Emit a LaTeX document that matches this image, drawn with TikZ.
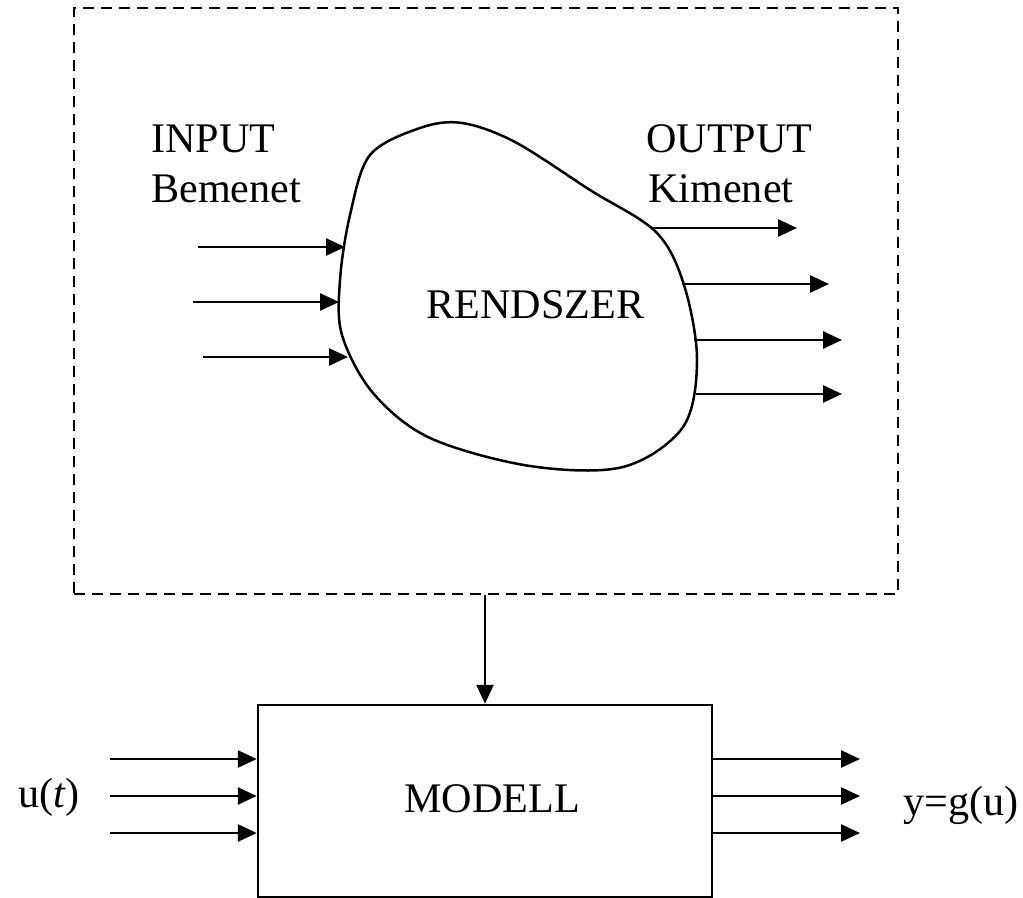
\documentclass[tikz,border=0pt]{standalone}
\usepackage{fontspec}
\setmainfont{Liberation Serif}
\usetikzlibrary{arrows.meta}
\begin{document}
\begin{tikzpicture}[x=0.02cm, y=-0.02cm,
  line width=0.05cm,
  arr/.style={-{Triangle[length=0.38cm,width=0.34cm]}},
  lbl/.style={anchor=base west, inner sep=0pt, font=\fontsize{24}{28}\selectfont},
  sysbox/.style={draw, dash pattern=on 0.22cm off 0.14cm, inner sep=0pt},
  modelbox/.style={draw, inner sep=0pt}]
\useasboundingbox (0,0) rectangle (1023,898);

% dashed system frame
\node[sysbox, minimum width=16.48cm, minimum height=11.72cm] (sys) at (486,301) {};

% the system blob
\draw plot[smooth cycle, tension=0.55] coordinates {
  (462,123) (515,142) (590,190) (656,232)
  (684,285) (697,360) (683,427) (623,467)
  (530,466) (430,438) (373,393) (342,335)
  (340,280) (350,215) (370,155) (420,128)};
\node[lbl] (rendszer) at (425,318) {RENDSZER};

\node[lbl] (input) at (150,153) {INPUT};
\node[lbl] (bemenet) at (150,203) {Bemenet};
\node[lbl] (output) at (645,153) {OUTPUT};
\node[lbl] (kimenet) at (647,203) {Kimenet};

% inputs to the system
\coordinate (i1s) at (198,247); \coordinate (i1e) at (345,247);
\coordinate (i2s) at (193,302); \coordinate (i2e) at (339,302);
\coordinate (i3s) at (203,357); \coordinate (i3e) at (348,357);
\draw[arr] (i1s) -- (i1e);
\draw[arr] (i2s) -- (i2e);
\draw[arr] (i3s) -- (i3e);

% outputs of the system
\coordinate (o1s) at (653,228); \coordinate (o1e) at (797,228);
\coordinate (o2s) at (682,284); \coordinate (o2e) at (829,284);
\coordinate (o3s) at (694,340); \coordinate (o3e) at (842,340);
\coordinate (o4s) at (696,394); \coordinate (o4e) at (842,394);
\draw[arr] (o1s) -- (o1e);
\draw[arr] (o2s) -- (o2e);
\draw[arr] (o3s) -- (o3e);
\draw[arr] (o4s) -- (o4e);

% model block
\node[modelbox, minimum width=9.08cm, minimum height=3.84cm] (model) at (485,801) {};
\node[lbl] (modell) at (403,812) {MODELL};
\draw[arr] (sys.south -| model.north) -- (model.north);

% model inputs
\coordinate (u1) at (110,759); \coordinate (u2) at (110,796); \coordinate (u3) at (110,833);
\draw[arr] (u1) -- (u1 -| model.west);
\draw[arr] (u2) -- (u2 -| model.west);
\draw[arr] (u3) -- (u3 -| model.west);
\node[lbl] (ut) at (17,807) {u(\textit{t})};

% model outputs
\coordinate (y1) at (860,759); \coordinate (y2) at (860,796); \coordinate (y3) at (860,833);
\draw[arr] (y1 -| model.east) -- (y1);
\draw[arr] (y2 -| model.east) -- (y2);
\draw[arr] (y3 -| model.east) -- (y3);
\node[lbl] (ygu) at (902,815) {y=g(u)};
\end{tikzpicture}
\end{document}
